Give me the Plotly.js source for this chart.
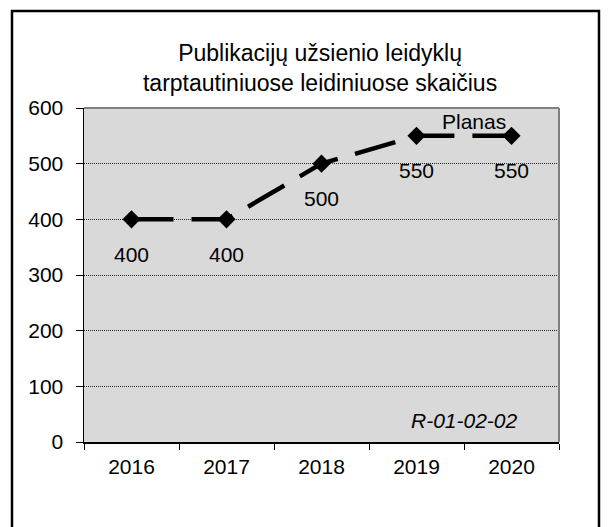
<!DOCTYPE html>
<html>
<head>
<meta charset="utf-8">
<script src="https://cdn.plot.ly/plotly-3.0.1.min.js"></script>
<style>
  html, body { margin: 0; padding: 0; background: #ffffff; }
  #chart { width: 608px; height: 527px; }
</style>
</head>
<body>
<div id="chart"></div>
<script>
// ---- data ----
const years = ['2016', '2017', '2018', '2019', '2020'];
const values = [400, 400, 500, 550, 550];
const valueLabels = ['400', '400', '500', '550', '550'];
const yTickVals = [0, 100, 200, 300, 400, 500, 600];
const yTickText = ['0', '100', '200', '300', '400', '500', '600'];
const titleText = 'Publikacijų užsienio leidyklų<br>tarptautiniuose leidiniuose skaičius';
const planLabel = 'Planas';
const codeLabel = 'R-01-02-02';

const FONT = 'Arial, "Liberation Sans", sans-serif';

const trace = {
  type: 'scatter',
  mode: 'lines+markers',
  x: years,
  y: values,
  line: { color: '#000000', width: 4.5, dash: '42px,18px' },
  marker: { symbol: 'diamond', size: 14, color: '#000000' },
  hoverinfo: 'skip',
  showlegend: false
};

const annotations = years.map((yr, i) => ({
  x: i, y: values[i], xref: 'x', yref: 'y',
  text: valueLabels[i], showarrow: false, yshift: -35,
  font: { family: FONT, size: 21, color: '#000000' }
}));
annotations.push({
  x: 3.6, y: values[3], xref: 'x', yref: 'y', text: planLabel,
  showarrow: false, yshift: 14,
  font: { family: FONT, size: 21, color: '#000000' }
});
annotations.push({
  x: 0.8, y: 0.064, xref: 'paper', yref: 'paper', text: '<i>' + codeLabel + '</i>',
  showarrow: false, xanchor: 'center', yanchor: 'middle',
  font: { family: FONT, size: 21, color: '#000000' }
});

const layout = {
  width: 608, height: 527,
  margin: { l: 84, r: 49, t: 108, b: 85, pad: 0 },
  paper_bgcolor: '#ffffff',
  plot_bgcolor: '#d9d9d9',
  font: { family: FONT, size: 21, color: '#000000' },
  title: {
    text: titleText,
    font: { family: FONT, size: 23, color: '#000000' },
    xref: 'paper', x: 0.497, xanchor: 'center',
    yref: 'container', y: 0.884, yanchor: 'top'
  },
  xaxis: {
    type: 'category',
    range: [-0.5, 4.5],
    tickson: 'boundaries',
    ticks: 'outside', ticklen: 6, tickcolor: '#000000', tickwidth: 1,
    ticklabelstandoff: 5,
    showline: true, linecolor: '#000000', linewidth: 1.5,
    showgrid: false, zeroline: false,
    tickfont: { family: FONT, size: 21, color: '#000000' },
    fixedrange: true
  },
  yaxis: {
    range: [0, 600],
    tickvals: yTickVals, ticktext: yTickText,
    ticks: 'outside', ticklen: 7, tickcolor: '#000000', tickwidth: 1,
    ticklabelstandoff: 8,
    showline: true, linecolor: '#000000', linewidth: 1.5,
    showgrid: true, gridcolor: '#222222', gridwidth: 1, griddash: '1px,1px',
    zeroline: false,
    tickfont: { family: FONT, size: 21, color: '#000000' },
    fixedrange: true
  },
  shapes: [
    { type: 'line', xref: 'paper', yref: 'paper', x0: 0, x1: 1, y0: 1, y1: 1,
      line: { color: '#808080', width: 2 }, layer: 'above' },
    { type: 'line', xref: 'paper', yref: 'paper', x0: 1, x1: 1, y0: 0, y1: 1,
      line: { color: '#808080', width: 2 }, layer: 'above' },
    { type: 'rect', xref: 'paper', yref: 'paper',
      x0: -0.1516, x1: 1.0842, y0: -0.278, y1: 1.2904,
      line: { color: '#000000', width: 2.5 }, fillcolor: 'rgba(0,0,0,0)', layer: 'above' }
  ],
  annotations: annotations
};

Plotly.newPlot('chart', [trace], layout, { displayModeBar: false, staticPlot: true });
</script>
</body>
</html>
